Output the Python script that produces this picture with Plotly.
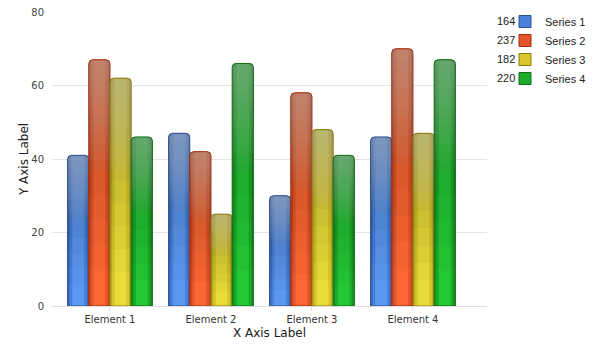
import plotly.graph_objects as go

# Chart data
categories = ["Element 1", "Element 2", "Element 3", "Element 4"]
series_names = ["Series 1", "Series 2", "Series 3", "Series 4"]
series_1 = [41, 47, 30, 46]
series_2 = [67, 42, 58, 70]
series_3 = [62, 25, 48, 47]
series_4 = [46, 66, 41, 67]
y_ticks = [0, 20, 40, 60, 80]

series_values = [series_1, series_2, series_3, series_4]

# Styling: (edge colour, mid colour, bright centre colour, outline colour)
palette = [
    ("#3a6ac0", "#4a82da", "#5b98f2", "#2c5296"),
    ("#cc4520", "#e4552a", "#fb6733", "#a3300f"),
    ("#bcac1c", "#d6c62a", "#eadc38", "#8a7c12"),
    ("#14901e", "#1cac2a", "#24c835", "#0f6e16"),
]

group_width = 0.84
bar_w = group_width / len(series_values)
radius = 4

fig = go.Figure()


def overlay(vals, f, color, off):
    """Translucent layer covering each bar from fraction f of its height to the top."""
    fig.add_trace(go.Bar(
        x=categories, y=[v * (1 - f) for v in vals], base=[v * f for v in vals],
        width=bar_w, offset=off,
        marker=dict(color=color, line=dict(width=0), cornerradius=radius),
        showlegend=False, hoverinfo="skip",
    ))


for i, (name, vals) in enumerate(zip(series_names, series_values)):
    edge, mid, bright, outline = palette[i]
    off = -group_width / 2 + i * bar_w

    # cylinder shading: nested bars getting narrower and brighter
    for frac, col in [(1.0, edge), (0.8, mid), (0.55, bright)]:
        w = bar_w * frac
        fig.add_trace(go.Bar(
            x=categories, y=vals,
            width=w, offset=off + (bar_w - w) / 2,
            marker=dict(color=col, line=dict(width=0), cornerradius=radius),
            showlegend=False, hoverinfo="skip",
        ))

    # gradual darkening from the lower third upward
    for f in [0.15, 0.25, 0.35, 0.45, 0.55]:
        overlay(vals, f, "rgba(0,0,0,0.03)", off)

    # greyish wash fading in toward the top
    for k in range(12):
        overlay(vals, 0.55 + k * 0.037, "rgba(178,178,178,0.055)", off)

    # outline on top
    fig.add_trace(go.Bar(
        x=categories, y=vals, name=name,
        width=bar_w, offset=off,
        marker=dict(color="rgba(0,0,0,0)", line=dict(color=outline, width=1),
                    cornerradius=radius),
        showlegend=False, hoverinfo="skip",
    ))

    # legend entry
    fig.add_trace(go.Bar(
        x=[None], y=[None], name=name,
        marker=dict(color=mid, line=dict(color=outline, width=1)),
        showlegend=True,
    ))

L, R, T, B = 52, 113, 12, 44
W, H = 600, 350

# series totals next to the legend rows
row_y = [21, 40, 59, 78]
for name, vals, py in zip(series_names, series_values, row_y):
    fig.add_annotation(
        xref="paper", yref="paper",
        x=(517 - L) / (W - L - R), y=1 - (py - T) / (H - T - B),
        xanchor="right", yanchor="middle",
        text=str(sum(vals)), showarrow=False,
        font=dict(family="Liberation Sans", size=11, color="#222"),
    )

fig.update_layout(
    width=W, height=H,
    margin=dict(l=L, r=R, t=T, b=B, pad=0),
    barmode="overlay",
    plot_bgcolor="white", paper_bgcolor="white",
    showlegend=True,
    legend=dict(
        xref="container", yref="container",
        x=505 / W, y=1 - 7 / H,
        xanchor="left", yanchor="top",
        font=dict(family="Liberation Sans", size=11, color="#222"),
        bgcolor="rgba(0,0,0,0)", itemwidth=30,
    ),
    font=dict(family="DejaVu Sans"),
)

fig.update_xaxes(
    type="category", categoryorder="array", categoryarray=categories,
    range=[-0.574, 3.733],
    showgrid=False, showline=True, linecolor="#dddddd", linewidth=1,
    ticks="outside", ticklen=4, tickcolor="#dddddd",
    tickfont=dict(family="DejaVu Sans", size=10, color="#333"),
    title=dict(text="X Axis Label", font=dict(family="DejaVu Sans", size=12, color="#222"),
               standoff=4),
    automargin=False, zeroline=False,
)

fig.update_yaxes(
    range=[0, 80], tickvals=y_ticks,
    showgrid=True, gridcolor="#e4e4e4", gridwidth=1,
    showline=False, zeroline=False, ticks="",
    ticklabelstandoff=7,
    tickfont=dict(family="DejaVu Sans", size=10, color="#444"),
    title=dict(text="Y Axis Label", font=dict(family="DejaVu Sans", size=12, color="#222"),
               standoff=0),
    automargin=False,
)

fig.write_html("out.html")
